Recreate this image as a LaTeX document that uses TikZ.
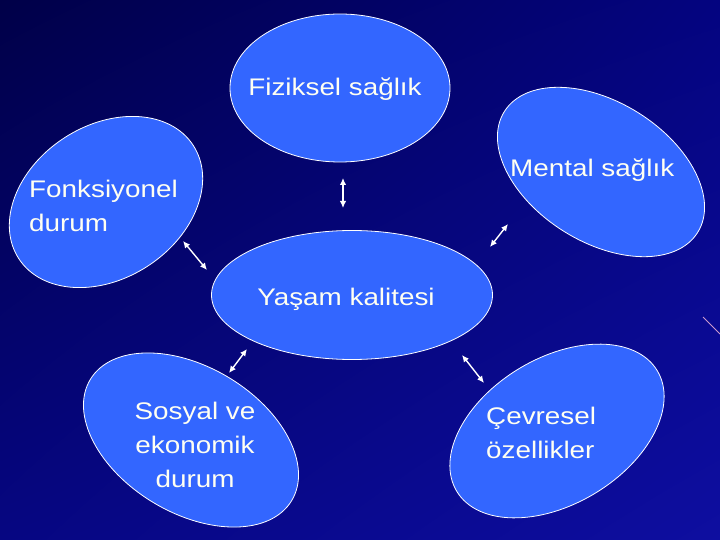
\documentclass[tikz,border=0pt]{standalone}
\usepackage{fontspec}
\setmainfont[FakeStretch=1.16]{Liberation Sans}
\usepackage{tikz}
\usetikzlibrary{arrows.meta,shapes.geometric,shadings}

\definecolor{bubble}{HTML}{3366FF}
\definecolor{labeltxt}{HTML}{FFFFF2}
\definecolor{bgul}{RGB}{0,0,72}
\definecolor{bgur}{RGB}{4,4,128}
\definecolor{bgll}{RGB}{6,6,130}
\definecolor{bglr}{RGB}{14,14,160}

\begin{document}
\begin{tikzpicture}
[x=1pt,y=-1pt,
every bubble/.style={ellipse,fill=bubble,draw=white,line width=0.8pt,inner sep=0pt},
every label text/.style={text=labeltxt,inner sep=0pt,font=\fontsize{24}{34}\selectfont},
link/.style={<->,>={Latex[length=7pt,width=6.5pt]},white,line width=1.4pt}]
% background
\shade[upper left=bgul,upper right=bgur,lower left=bgll,lower right=bglr]
  (0,0) rectangle (720,540);
\useasboundingbox (0,0) rectangle (720,540);
\draw[violet!40!white,line width=0.8pt] (703,317) -- (720,334);

% bubbles
\node[every bubble,minimum width=220pt,minimum height=148pt] (fiziksel) at (340,88) {};
\node[every bubble,minimum width=228pt,minimum height=140pt,rotate=-32] (mental) at (601,172) {};
\node[every bubble,minimum width=208pt,minimum height=153pt,rotate=33] (fonk) at (106,202) {};
\node[every bubble,minimum width=281pt,minimum height=129pt] (yasam) at (352,295) {};
\node[every bubble,minimum width=235pt,minimum height=146pt,rotate=-31] (sosyal) at (191,440) {};
\node[every bubble,minimum width=234pt,minimum height=146pt,rotate=31] (cevre) at (557,431) {};

% texts
\node[every label text,anchor=base] (fizikseltxt) at (335,96) {Fiziksel sağlık};
\node[every label text,anchor=base west] (mentaltxt) at (510,177) {Mental sağlık};
\node[every label text,anchor=base west,align=left] (fonktxt) at (29,231) {Fonksiyonel\\durum};
\node[every label text,anchor=base] (yasamtxt) at (346,305) {Yaşam kalitesi};
\node[every label text,anchor=base,align=center] (sosyaltxt) at (195,487) {Sosyal ve\\ekonomik\\durum};
\node[every label text,anchor=base west,align=left] (cevretxt) at (486,458) {Çevresel\\özellikler};

% arrows
\coordinate (fa) at (343,178);   \coordinate (fb) at (343,208);
\coordinate (ka) at (183,241);   \coordinate (kb) at (207,270);
\coordinate (ma) at (508,224);   \coordinate (mb) at (490,247);
\coordinate (sa) at (247,349);   \coordinate (sb) at (229,373);
\coordinate (ca) at (462,355);   \coordinate (cb) at (484,383);
\draw[link] (fa) -- (fb);
\draw[link] (ka) -- (kb);
\draw[link] (ma) -- (mb);
\draw[link] (sa) -- (sb);
\draw[link] (ca) -- (cb);
\end{tikzpicture}
\end{document}
